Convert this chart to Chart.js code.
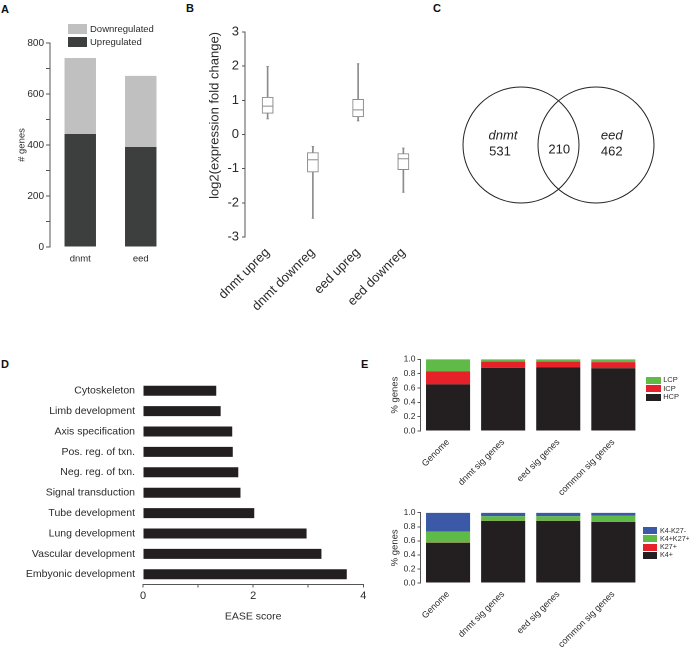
<!DOCTYPE html>
<html>
<head>
<meta charset="utf-8">
<script src="https://cdn.jsdelivr.net/npm/chart.js@4"></script>
<style>
  html, body { margin:0; padding:0; background:#fff; }
  body { width:689px; height:650px; position:relative; overflow:hidden; font-family:'Liberation Sans', Arial, sans-serif; color:#2a2a2a; }
  canvas { position:absolute; }
  .lbl { position:absolute; font-weight:bold; font-size:11px; line-height:12px; color:#111; }
  .leg { position:absolute; white-space:nowrap; }
  .leg span.sw { position:absolute; left:0; }
  .leg span.tx { position:absolute; }
</style>
</head>
<body>
<div class="lbl" style="left:1px;top:3px;">A</div>
<div class="lbl" style="left:186px;top:2px;">B</div>
<div class="lbl" style="left:433px;top:2px;">C</div>
<div class="lbl" style="left:1px;top:358px;">D</div>
<div class="lbl" style="left:361px;top:358px;">E</div>

<canvas id="cA" width="180" height="280" style="left:0;top:0;"></canvas>
<canvas id="cB" width="270" height="330" style="left:170px;top:0;"></canvas>
<canvas id="cC" width="249" height="300" style="left:440px;top:0;"></canvas>
<canvas id="cD" width="400" height="310" style="left:0;top:330px;"></canvas>
<canvas id="cE1" width="304" height="170" style="left:385px;top:340px;"></canvas>
<canvas id="cE2" width="304" height="155" style="left:385px;top:495px;"></canvas>

<div id="legA"></div>
<div id="legE1"></div>
<div id="legE2"></div>

<script>
// ---------- DATA ----------
// Panel A
const genotypes = ['dnmt', 'eed'];
const upregulated = [443, 392];
const downregulated = [298, 279];

// Panel B (box plots)
const boxCategories = ['dnmt upreg', 'dnmt downreg', 'eed upreg', 'eed downreg'];
const boxMin    = [0.46, -2.45, 0.40, -1.69];
const boxQ1     = [0.62, -1.10, 0.52, -1.03];
const boxMedian = [0.83, -0.74, 0.72, -0.71];
const boxQ3     = [1.09, -0.53, 1.03, -0.56];
const boxMax    = [1.99, -0.35, 2.07, -0.40];
const boxTicks  = [-3, -2, -1, 0, 1, 2, 3];

// Panel C (Venn)
const vennSets = ['dnmt', 'eed'];
const vennOnly = [531, 462];
const vennOverlap = 210;

// Panel D
const goTerms = ['Cytoskeleton', 'Limb development', 'Axis specification', 'Pos. reg. of txn.',
  'Neg. reg. of txn.', 'Signal transduction', 'Tube development', 'Lung development',
  'Vascular development', 'Embyonic development'];
const easeScores = [1.33, 1.41, 1.62, 1.63, 1.73, 1.77, 2.02, 2.97, 3.24, 3.70];

// Panel E
const geneSets = ['Genome', 'dnmt sig genes', 'eed sig genes', 'common sig genes'];
const hcp = [0.65, 0.88, 0.885, 0.875];
const icp = [0.18, 0.087, 0.082, 0.085];
const lcp = [0.17, 0.033, 0.033, 0.04];
const k4Pos = [0.57, 0.882, 0.882, 0.868];
const k27Pos = [0.005, 0.002, 0.002, 0.002];
const k4k27Pos = [0.155, 0.066, 0.066, 0.09];
const k4k27Neg = [0.27, 0.05, 0.05, 0.04];

// ---------- STYLE ----------
const FONT = "'Liberation Sans', Arial, Helvetica, sans-serif";
Chart.defaults.font.family = FONT;
Chart.defaults.color = '#2a2a2a';
const AX = '#555';
const baseOpts = {
  responsive: false, animation: false, devicePixelRatio: 2,
  plugins: { legend: { display: false }, tooltip: { enabled: false } }
};

function legend(containerId, items, left, firstCenter, step, sw, sh, gap, fs) {
  const c = document.getElementById(containerId);
  items.forEach((it, i) => {
    const cy = firstCenter + i * step;
    const d = document.createElement('div');
    d.className = 'leg';
    d.style.left = left + 'px';
    d.style.top = (cy - 10) + 'px';
    d.style.height = '20px';
    d.innerHTML = '<span class="sw" style="top:' + (10 - sh / 2) + 'px;width:' + sw + 'px;height:' + sh + 'px;background:' + it.color + ';"></span>' +
      '<span class="tx" style="left:' + (sw + gap) + 'px;top:0;line-height:20px;font-size:' + fs + 'px;">' + it.text + '</span>';
    c.appendChild(d);
  });
}

// ---------- PANEL A ----------
new Chart(document.getElementById('cA'), {
  type: 'bar',
  data: {
    labels: genotypes,
    datasets: [
      { label: 'Upregulated', data: upregulated, backgroundColor: '#3d3f3f', barPercentage: 0.52, categoryPercentage: 1 },
      { label: 'Downregulated', data: downregulated, backgroundColor: '#c0c0c0', barPercentage: 0.52, categoryPercentage: 1 }
    ]
  },
  options: Object.assign({}, baseOpts, {
    layout: { padding: { top: 43, right: 9, left: 0, bottom: 0 } },
    scales: {
      x: {
        stacked: true,
        grid: { display: false, drawTicks: false },
        border: { display: false },
        ticks: { padding: 6, font: { size: 9.5 } },
        afterFit(s) { s.height = 33; }
      },
      y: {
        stacked: true, min: 0, max: 800,
        ticks: { stepSize: 100, padding: 2, font: { size: 10 }, callback: v => (v % 200 === 0 ? v : '') },
        grid: { display: true, drawOnChartArea: false, tickLength: 4, color: AX },
        border: { display: true, color: AX },
        title: { display: true, text: '# genes', font: { size: 9.5 }, padding: { top: 16, bottom: 0 } },
        afterFit(s) { s.width = 50; }
      }
    }
  })
});
legend('legA', [{ text: 'Downregulated', color: '#c0c0c0' }, { text: 'Upregulated', color: '#3d3f3f' }], 68, 29, 13, 19, 10, 3, 9.5);

// ---------- PANEL B ----------
const BOXC = '#8c8c8c';
new Chart(document.getElementById('cB'), {
  type: 'bar',
  data: {
    labels: boxCategories,
    datasets: [
      { type: 'bar', label: 'whisker', data: boxMin.map((v, i) => [v, boxMax[i]]), backgroundColor: BOXC, barThickness: 1, grouped: false, order: 4 },
      { type: 'bar', label: 'box', data: boxQ1.map((v, i) => [v, boxQ3[i]]), backgroundColor: '#ffffff', borderColor: BOXC, borderWidth: 1, borderSkipped: false, barThickness: 11, grouped: false, order: 3 },
      { type: 'line', label: 'median', data: boxMedian, showLine: false, pointStyle: 'line', pointRadius: 5.5, pointBorderColor: BOXC, pointBorderWidth: 1, borderColor: BOXC, order: 2 },
      { type: 'line', label: 'min', data: boxMin, showLine: false, pointStyle: 'line', pointRadius: 1.2, pointBorderColor: BOXC, pointBorderWidth: 1, borderColor: BOXC, order: 1 },
      { type: 'line', label: 'max', data: boxMax, showLine: false, pointStyle: 'line', pointRadius: 1.2, pointBorderColor: BOXC, pointBorderWidth: 1, borderColor: BOXC, order: 1 }
    ]
  },
  options: Object.assign({}, baseOpts, {
    layout: { autoPadding: false, padding: { top: 32, right: 14, left: 0, bottom: 0 } },
    scales: {
      x: {
        grid: { display: false, drawTicks: false },
        border: { display: false },
        ticks: { minRotation: 45, maxRotation: 45, padding: 8, font: { size: 13 } },
        afterFit(s) { s.height = 93; }
      },
      y: {
        min: boxTicks[0], max: boxTicks[boxTicks.length - 1],
        ticks: { stepSize: 0.5, padding: 3, font: { size: 13 }, callback: v => (Number.isInteger(v) ? v : '') },
        grid: { display: true, drawOnChartArea: false, tickLength: 3, color: AX },
        border: { display: true, color: AX },
        title: { display: true, text: 'log2(expression fold change)', align: 'end', font: { size: 13 }, padding: { top: 37, bottom: 0 } },
        afterFit(s) { s.width = 75; }
      }
    }
  })
});

// ---------- PANEL C (Venn) ----------
const vennText = {
  id: 'vennText',
  afterDatasetsDraw(chart) {
    const ctx = chart.ctx, xs = chart.scales.x, ys = chart.scales.y;
    const y0 = ys.getPixelForValue(0);
    ctx.save();
    ctx.fillStyle = '#222';
    ctx.textAlign = 'center';
    ctx.textBaseline = 'middle';
    const regions = [-0.24, 1.21];
    vennSets.forEach((name, i) => {
      const x = xs.getPixelForValue(regions[i]);
      ctx.font = 'italic 13px ' + FONT;
      ctx.fillText(name, x, y0 - 9);
      ctx.font = '13px ' + FONT;
      ctx.fillText(String(vennOnly[i]), x - (i === 0 ? 3 : 0), y0 + 7);
    });
    ctx.font = '13px ' + FONT;
    ctx.fillText(String(vennOverlap), xs.getPixelForValue(0.51), y0 + 5);
    ctx.restore();
  }
};
new Chart(document.getElementById('cC'), {
  type: 'scatter',
  data: {
    datasets: [{
      data: vennSets.map((s, i) => ({ x: i, y: 0 })),
      pointRadius: 58, pointBorderWidth: 1, pointBorderColor: '#222', pointBackgroundColor: 'rgba(0,0,0,0)',
      clip: false
    }]
  },
  options: Object.assign({}, baseOpts, {
    layout: { autoPadding: false, padding: { top: 0, right: 0, left: 0, bottom: 10 } },
    scales: {
      x: { type: 'linear', min: -1.08, max: 2.24, display: false },
      y: { type: 'linear', min: -1, max: 1, display: false }
    }
  }),
  plugins: [vennText]
});

// ---------- PANEL D ----------
new Chart(document.getElementById('cD'), {
  type: 'bar',
  data: {
    labels: goTerms,
    datasets: [{ data: easeScores, backgroundColor: '#231f20', barPercentage: 0.49, categoryPercentage: 1 }]
  },
  options: Object.assign({}, baseOpts, {
    indexAxis: 'y',
    layout: { padding: { top: 50.5, right: 36.7, left: 0, bottom: 0 } },
    scales: {
      y: {
        grid: { display: false, drawTicks: false },
        border: { display: false },
        ticks: { padding: 8, font: { size: 10.5 }, color: '#2a2a2a' },
        afterFit(s) { s.width = 143; }
      },
      x: {
        min: 0, max: 4,
        ticks: { stepSize: 1, padding: 2, font: { size: 11 }, callback: v => (v % 2 === 0 ? v : '') },
        grid: { display: true, drawOnChartArea: false, tickLength: 3, color: AX },
        border: { display: true, color: AX },
        title: { display: true, text: 'EASE score', font: { size: 10.5 }, padding: { top: 0, bottom: 17 } },
        afterFit(s) { s.height = 55.5; }
      }
    }
  })
});

// ---------- PANEL E ----------
const C_GREEN = '#5fba47', C_RED = '#e62129', C_BLACK = '#231f20', C_BLUE = '#3b59a6';
function eOpts(padTop, xHeight) {
  return Object.assign({}, baseOpts, {
    layout: { padding: { top: padTop, right: 48.1, left: 0, bottom: 0 } },
    scales: {
      x: {
        stacked: true,
        grid: { display: false, drawTicks: false },
        border: { display: false },
        ticks: { minRotation: 45, maxRotation: 45, padding: 6, font: { size: 9 } },
        afterFit(s) { s.height = xHeight; }
      },
      y: {
        stacked: true, min: 0, max: 1,
        ticks: { stepSize: 0.2, padding: 2, font: { size: 8.5 }, callback: v => Number(v).toFixed(1) },
        grid: { display: true, drawOnChartArea: false, tickLength: 3, color: AX },
        border: { display: true, color: AX },
        title: { display: true, text: '% genes', font: { size: 9.5 }, padding: { top: 4, bottom: 0 } },
        afterFit(s) { s.width = 35.5; }
      }
    }
  });
}
const eBar = { barPercentage: 0.8, categoryPercentage: 1 };
new Chart(document.getElementById('cE1'), {
  type: 'bar',
  data: {
    labels: geneSets,
    datasets: [
      Object.assign({ label: 'HCP', data: hcp, backgroundColor: C_BLACK }, eBar),
      Object.assign({ label: 'ICP', data: icp, backgroundColor: C_RED }, eBar),
      Object.assign({ label: 'LCP', data: lcp, backgroundColor: C_GREEN }, eBar)
    ]
  },
  options: eOpts(19.3, 79)
});
new Chart(document.getElementById('cE2'), {
  type: 'bar',
  data: {
    labels: geneSets,
    datasets: [
      Object.assign({ label: 'K4+', data: k4Pos, backgroundColor: C_BLACK }, eBar),
      Object.assign({ label: 'K27+', data: k27Pos, backgroundColor: C_RED }, eBar),
      Object.assign({ label: 'K4+K27+', data: k4k27Pos, backgroundColor: C_GREEN }, eBar),
      Object.assign({ label: 'K4-K27-', data: k4k27Neg, backgroundColor: C_BLUE }, eBar)
    ]
  },
  options: eOpts(17.7, 67)
});
legend('legE1', [{ text: 'LCP', color: C_GREEN }, { text: 'ICP', color: C_RED }, { text: 'HCP', color: C_BLACK }], 646, 380, 8.7, 14.7, 7, 2.5, 7.5);
legend('legE2', [{ text: 'K4-K27-', color: C_BLUE }, { text: 'K4+K27+', color: C_GREEN }, { text: 'K27+', color: C_RED }, { text: 'K4+', color: C_BLACK }], 642.7, 530.7, 8.2, 14.7, 7, 2.5, 7.2);
</script>
</body>
</html>
